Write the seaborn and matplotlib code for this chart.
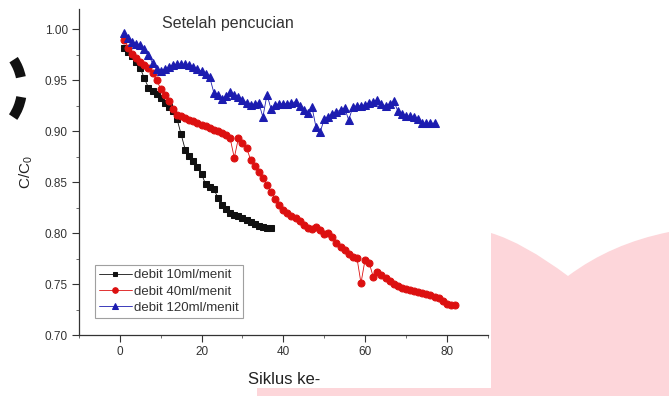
import numpy as np
import pandas as pd
import matplotlib
matplotlib.use("Agg")
import matplotlib.pyplot as plt
from matplotlib.patches import PathPatch, Wedge
from matplotlib.path import Path
from matplotlib.ticker import MultipleLocator, FormatStrFormatter
import seaborn as sns

# Relative concentration C/C0 per washing cycle, for three flow rates
cycle_10 = list(range(1, 38))
conc_10 = [0.982, 0.978, 0.974, 0.968, 0.962, 0.952, 0.943, 0.940, 0.937, 0.933,
           0.928, 0.924, 0.920, 0.912, 0.897, 0.882, 0.876, 0.871, 0.865, 0.858,
           0.848, 0.845, 0.843, 0.835, 0.828, 0.824, 0.820, 0.818, 0.817, 0.815,
           0.813, 0.811, 0.809, 0.807, 0.806, 0.805, 0.805]

cycle_40 = list(range(1, 83))
conc_40 = [0.990, 0.982, 0.976, 0.972, 0.968, 0.965, 0.962, 0.957, 0.950, 0.942,
           0.936, 0.930, 0.922, 0.916, 0.915, 0.913, 0.911, 0.910, 0.908, 0.906,
           0.905, 0.903, 0.901, 0.900, 0.898, 0.896, 0.893, 0.874, 0.893, 0.889,
           0.884, 0.872, 0.866, 0.860, 0.854, 0.847, 0.840, 0.834, 0.828, 0.823,
           0.820, 0.817, 0.815, 0.812, 0.808, 0.805, 0.804, 0.806, 0.803, 0.799,
           0.800, 0.796, 0.790, 0.786, 0.783, 0.780, 0.777, 0.776, 0.751, 0.774,
           0.771, 0.757, 0.762, 0.759, 0.756, 0.753, 0.750, 0.748, 0.746, 0.745,
           0.744, 0.743, 0.742, 0.741, 0.740, 0.739, 0.737, 0.736, 0.733, 0.730,
           0.729, 0.729]

cycle_120 = list(range(1, 78))
conc_120 = [0.997, 0.992, 0.988, 0.986, 0.985, 0.981, 0.975, 0.967, 0.961, 0.959,
            0.961, 0.963, 0.965, 0.966, 0.966, 0.966, 0.965, 0.963, 0.961, 0.959,
            0.956, 0.953, 0.938, 0.936, 0.932, 0.935, 0.939, 0.936, 0.934, 0.931,
            0.928, 0.926, 0.927, 0.928, 0.914, 0.936, 0.922, 0.926, 0.927, 0.927,
            0.927, 0.928, 0.929, 0.925, 0.921, 0.918, 0.924, 0.904, 0.899, 0.912,
            0.914, 0.917, 0.919, 0.921, 0.923, 0.911, 0.924, 0.925, 0.925, 0.926,
            0.928, 0.929, 0.931, 0.927, 0.925, 0.927, 0.930, 0.920, 0.917, 0.915,
            0.915, 0.914, 0.912, 0.908, 0.908, 0.908, 0.908]

labels = ["debit 10ml/menit", "debit 40ml/menit", "debit 120ml/menit"]
x_ticks = [0, 20, 40, 60, 80]
y_ticks = [0.70, 0.75, 0.80, 0.85, 0.90, 0.95, 1.00]

sns.set_theme(style="ticks")
plt.rcParams["font.family"] = ["Liberation Sans", "DejaVu Sans"]

fig = plt.figure(figsize=(6.69, 3.96), dpi=100)
fig.patch.set_facecolor("white")

# Background decoration layer in pixel units (y pointing down)
bg = fig.add_axes([0, 0, 1, 1], zorder=0)
bg.set_xlim(0, 669)
bg.set_ylim(396, 0)
bg.axis("off")
verts = [(257, 396), (257, 388), (491, 388), (491, 233),
         (523.8, 242.8), (568, 276),
         (611.3, 243.5), (669, 232),
         (669, 396), (257, 396)]
codes = [Path.MOVETO, Path.LINETO, Path.LINETO, Path.LINETO,
         Path.CURVE3, Path.CURVE3,
         Path.CURVE3, Path.CURVE3,
         Path.LINETO, Path.CLOSEPOLY]
bg.add_patch(PathPatch(Path(verts, codes), facecolor="#fdd6da", edgecolor="none"))
bg.add_patch(Wedge((-30, 88), 57, -33, -12, width=10, facecolor="#111111", edgecolor="none"))
bg.add_patch(Wedge((-30, 88), 57, 10, 34, width=10, facecolor="#111111", edgecolor="none"))

ax = fig.add_axes([0.118, 0.154, 0.611, 0.823], zorder=1)
ax.set_facecolor("none")

series = [
    (cycle_10, conc_10, "s", "#111111", 4.3),
    (cycle_40, conc_40, "o", "#dc1010", 5.0),
    (cycle_120, conc_120, "^", "#1c1cb0", 5.2),
]
for (xs, ys, mk, col, ms), lab in zip(series, labels):
    sns.lineplot(x=xs, y=ys, ax=ax, marker=mk, color=col, markersize=ms,
                 markeredgecolor=col, linewidth=0.6, label=lab)

ax.set_xlim(-10, 90)
ax.set_ylim(0.70, 1.02)
ax.set_xticks(x_ticks)
ax.set_yticks(y_ticks)
ax.yaxis.set_major_formatter(FormatStrFormatter("%.2f"))
ax.xaxis.set_minor_locator(MultipleLocator(10))
ax.yaxis.set_minor_locator(MultipleLocator(0.025))
ax.tick_params(axis="both", which="major", length=5, width=0.8, color="#333333",
               labelsize=8.5, labelcolor="#333333", pad=3)
ax.tick_params(axis="both", which="minor", length=2.5, width=0.6, color="#555555")
for side in ("top", "right"):
    ax.spines[side].set_visible(False)
for side in ("left", "bottom"):
    ax.spines[side].set_color("#333333")
    ax.spines[side].set_linewidth(0.9)

ax.set_xlabel("Siklus ke-", fontsize=12, color="#222222")
ax.xaxis.set_label_coords(0.502, -0.113)
ax.set_ylabel("C/C$_\\mathregular{0}$", fontsize=11, color="#222222")
ax.yaxis.set_label_coords(-0.108, 0.5)
ax.text(0.203, 0.957, "Setelah pencucian", transform=ax.transAxes,
        fontsize=11.5, color="#333333", va="center", ha="left")

leg = ax.legend(loc="lower left", bbox_to_anchor=(0.039, 0.052), borderaxespad=0,
                fontsize=9.5, frameon=True, fancybox=False, handlelength=2.5,
                handletextpad=0.2, borderpad=0.3, labelspacing=0.32,
                markerscale=0.8)
leg.get_frame().set_edgecolor("#888888")
leg.get_frame().set_linewidth(0.8)
for t in leg.get_texts():
    t.set_color("#333333")

fig.savefig("out.png", dpi=100)
